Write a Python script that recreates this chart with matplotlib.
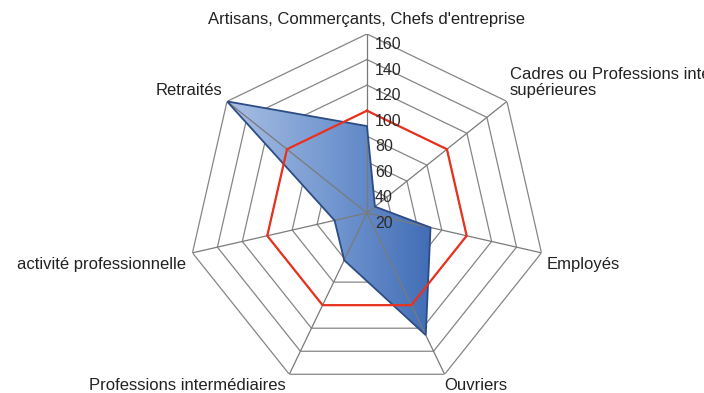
import numpy as np
import matplotlib.pyplot as plt
from matplotlib.colors import LinearSegmentedColormap

plt.rcParams['font.family'] = ['Liberation Sans', 'DejaVu Sans']

categories = ["Artisans, Commerçants, Chefs d'entreprise",
              "Cadres ou Professions intellectuelles\nsupérieures",
              "Employés", "Ouvriers", "Professions intermédiaires",
              "activité professionnelle", "Retraités"]
values = [88, 28, 71, 126, 61, 46, 160]
reference = [100, 100, 100, 100, 100, 100, 100]
rticks = [20, 40, 60, 80, 100, 120, 140, 160]

# label placement around each outer vertex: (dx, dy) in pixels, ha, va
label_pos = [((0, 7), 'center', 'bottom'),
             ((3, 3), 'left', 'bottom'),
             ((5, -12), 'left', 'center'),
             ((0, -11), 'left', 'center'),
             ((-4, -11), 'right', 'center'),
             ((-6, -12), 'right', 'center'),
             ((-5, 11), 'right', 'center')]

n = len(categories)
theta = np.linspace(0, 2 * np.pi, n, endpoint=False)
theta_c = np.append(theta, theta[0])

fig = plt.figure(figsize=(7.04, 3.93), dpi=100)
ax = fig.add_axes([0.267, 0.0025, 0.5085, 0.911], projection='polar')
ax.set_theta_offset(np.pi / 2)
ax.set_theta_direction(-1)
ax.set_autoscale_on(False)
ax.set_xticks([])
ax.set_yticks([])
ax.spines['polar'].set_visible(False)
ax.grid(False)

# heptagon rings (under the fill)
for r in rticks[1:]:
    ax.plot(theta_c, [r] * (n + 1), color='#858585', lw=0.9, zorder=1)

# horizontal gradient clipped to the data polygon
cmap = LinearSegmentedColormap.from_list('blues', ['#aec4e6', '#7397d0', '#3a67b2'])
grad = np.linspace(0, 1, 256).reshape(1, -1)
img = ax.imshow(grad, cmap=cmap, extent=[0.08, 0.72, 0, 1], aspect='auto',
                transform=ax.transAxes, zorder=2)
poly = ax.fill(theta_c, values + values[:1], facecolor='none',
               edgecolor='#2b4c85', lw=1.3, zorder=3)[0]
img.set_clip_path(poly)

# spokes drawn over the fill
for t in theta:
    ax.plot([t, t], [rticks[0], rticks[-1]], color='#7a7a7a', lw=0.9, zorder=2.5)

ax.plot(theta_c, reference + reference[:1], color='#e8321e', lw=1.6, zorder=4)

ax.set_xlim(0, 2 * np.pi)
ax.set_ylim(rticks[0], rticks[-1])

for r in rticks:
    ax.annotate(str(r), xy=(0, r), xytext=(8, -3),
                textcoords='offset pixels', ha='left', va='top',
                fontsize=11.5, color='#2a2a2a', zorder=5)

for t, lab, (off, ha, va) in zip(theta, categories, label_pos):
    ax.annotate(lab, xy=(t, rticks[-1]), xytext=off, textcoords='offset pixels',
                ha=ha, va=va, fontsize=12, color='#222222',
                annotation_clip=False, linespacing=1.15)

plt.savefig('out.png', dpi=100)
